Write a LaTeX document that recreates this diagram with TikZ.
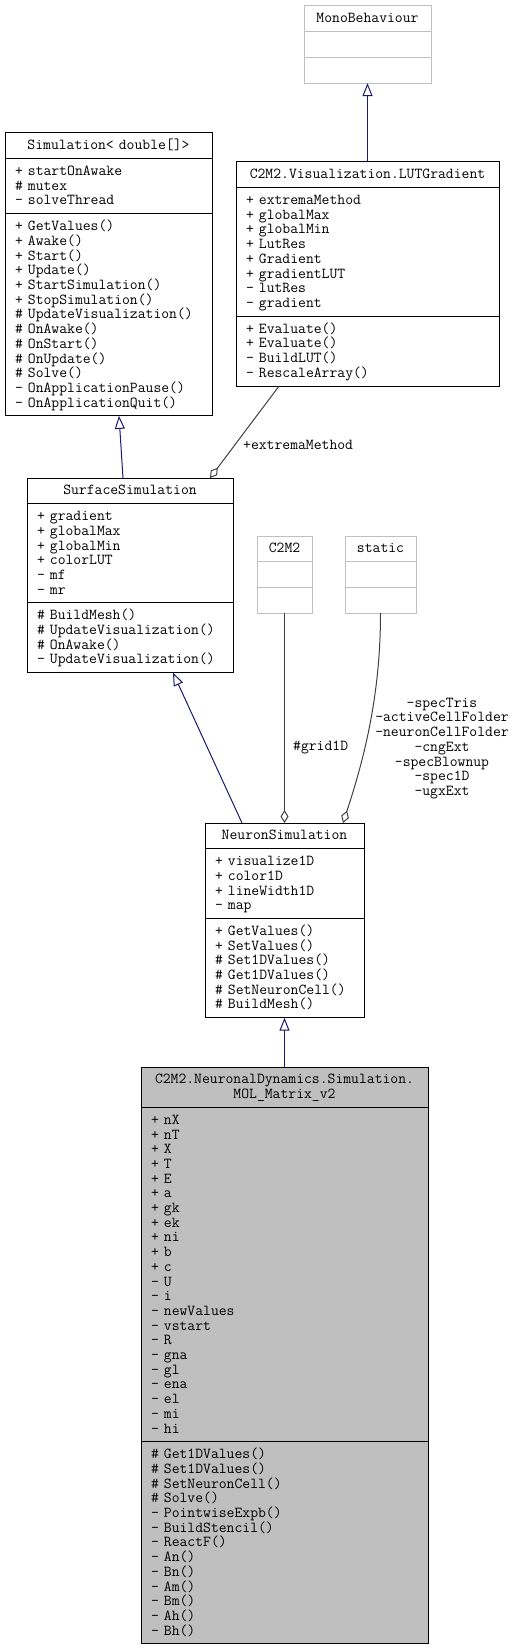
\documentclass[tikz,border=0pt]{standalone}
\usetikzlibrary{arrows.meta,shapes.multipart}
\definecolor{edgeblue}{RGB}{25,25,112}
\definecolor{edgegrey}{RGB}{64,64,64}
\definecolor{boxgrey}{RGB}{191,191,191}
\newcommand{\rs}{\rule[-3.9pt]{0pt}{15.9pt}}
\newcommand{\ct}[1]{\makebox[\linewidth][c]{#1}}
\newcommand{\umlfont}{\ttfamily\fontsize{15.24}{14.7}\selectfont
  \lineskiplimit=-20pt\normallineskiplimit=-20pt}

\begin{document}
\begin{tikzpicture}[x=1pt,y=-1pt,
  cls/.style={rectangle split,rectangle split parts=3,draw,line width=1pt,
    anchor=north west,inner xsep=10pt,inner ysep=4.4pt,outer sep=0pt,
    align=left,font=\umlfont},
  ext/.style={cls,draw=boxgrey},
  inherit/.style={draw=edgeblue,line width=1pt,-{Triangle[open,length=13pt,width=10pt]}},
  aggr/.style={draw=edgegrey,line width=1pt,-{Diamond[open,length=13pt,width=8pt]}},
  lbl/.style={font=\umlfont,inner sep=0pt}]
\useasboundingbox (0,0) rectangle (517,1648);
% external classes
\node[ext,text width=107pt] (mono) at (304,6)
  {\rs\ct{MonoBehaviour}\nodepart{second}\rs\nodepart{third}\rs};
\node[ext,text width=35pt] (c2m2) at (257,536)
  {\rs\ct{C2M2}\nodepart{second}\rs\nodepart{third}\rs};
\node[ext,text width=51pt] (static) at (345,536)
  {\rs\ct{static}\nodepart{second}\rs\nodepart{third}\rs};
% base classes
\node[cls,text width=187pt] (sim) at (5,133)
  {\rs\ct{Simulation< double[]>}\rs
   \nodepart{second}\rs+ startOnAwake\\\# mutex\\- solveThread\rs
   \nodepart{third}\rs+ GetValues()\\+ Awake()\\+ Start()\\+ Update()\\+ StartSimulation()\\+ StopSimulation()\\\# UpdateVisualization()\\\# OnAwake()\\\# OnStart()\\\# OnUpdate()\\\# Solve()\\- OnApplicationPause()\\- OnApplicationQuit()\rs};
\node[cls,text width=243pt] (lut) at (236,162)
  {\rs\ct{C2M2.Visualization.LUTGradient}\rs
   \nodepart{second}\rs+ extremaMethod\\+ globalMax\\+ globalMin\\+ LutRes\\+ Gradient\\+ gradientLUT\\- lutRes\\- gradient\rs
   \nodepart{third}\rs+ Evaluate()\\+ Evaluate()\\- BuildLUT()\\- RescaleArray()\rs};
\node[cls,text width=186pt] (surf) at (27,478)
  {\rs\ct{SurfaceSimulation}\rs
   \nodepart{second}\rs+ gradient\\+ globalMax\\+ globalMin\\+ colorLUT\\- mf\\- mr\rs
   \nodepart{third}\rs\# BuildMesh()\\\# UpdateVisualization()\\\# OnAwake()\\- UpdateVisualization()\rs};
\node[cls,text width=139pt] (neuron) at (205,823)
  {\rs\ct{NeuronSimulation}\rs
   \nodepart{second}\rs+ visualize1D\\+ color1D\\+ lineWidth1D\\- map\rs
   \nodepart{third}\rs+ GetValues()\\+ SetValues()\\\# Set1DValues()\\\# Get1DValues()\\\# SetNeuronCell()\\\# BuildMesh()\rs};
% the class itself
\node[cls,fill=boxgrey,text width=267pt] (mol) at (141,1067)
  {\rs\ct{C2M2.NeuronalDynamics.Simulation.}\\\ct{MOL\_Matrix\_v2}\rs
   \nodepart{second}\rs+ nX\\+ nT\\+ X\\+ T\\+ E\\+ a\\+ gk\\+ ek\\+ ni\\+ b\\+ c\\- U\\- i\\- newValues\\- vstart\\- R\\- gna\\- gl\\- ena\\- el\\- mi\\- hi\rs
   \nodepart{third}\rs\# Get1DValues()\\\# Set1DValues()\\\# SetNeuronCell()\\\# Solve()\\- PointwiseExpb()\\- BuildStencil()\\- ReactF()\\- An()\\- Bn()\\- Am()\\- Bm()\\- Ah()\\- Bh()\rs};
% labels
\node[lbl,anchor=base west] (extlbl) at (243,449.5) {+extremaMethod};
\node[lbl,anchor=base west] (gridlbl) at (293,750) {\#grid1D};
\node[lbl,align=center,anchor=north] (speclbl) at (442,695)
  {\rs-specTris\\-activeCellFolder\\-neuronCellFolder\\-cngExt\\-specBlownup\\-spec1D\\-ugxExt\rs};
% edges
\draw[inherit] (lut.north) -- (mono.south);
\draw[inherit] ([xshift=-7pt]surf.north) -- ([xshift=10.5pt]sim.south);
\draw[aggr] ([xshift=-88.5pt]lut.south) -- ([xshift=80pt]surf.north);
\draw[inherit] ([xshift=-42.5pt]neuron.north) -- ([xshift=43pt]surf.south);
\draw[aggr] (c2m2.south) -- (neuron.north);
\draw[aggr] (static.south) .. controls +(0,87) and +(19,-58) .. ([xshift=58.5pt]neuron.north);
\draw[inherit] (mol.north) -- (neuron.south);
\end{tikzpicture}
\end{document}
